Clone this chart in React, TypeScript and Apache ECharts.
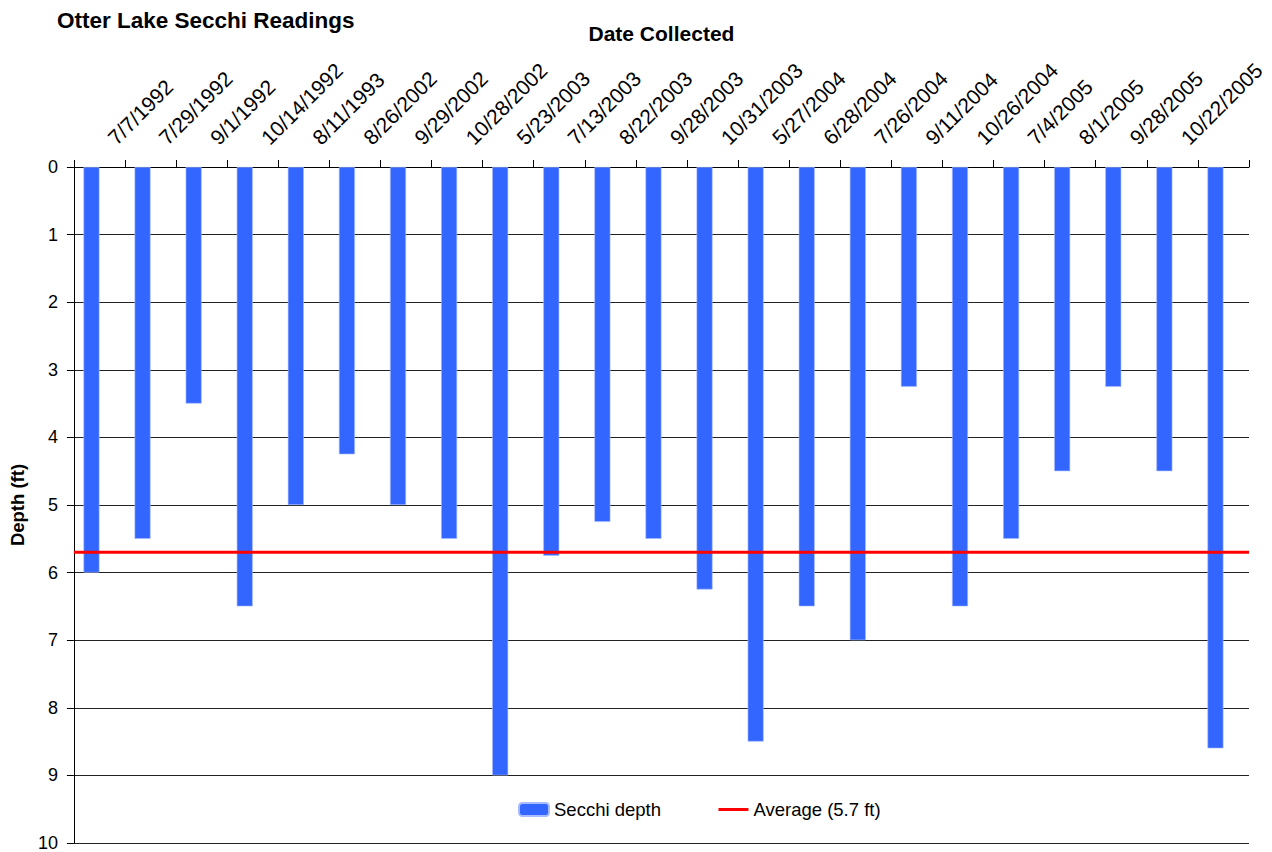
import React, { useEffect, useRef } from 'react';
import * as echarts from 'echarts';

const FONT = "'Liberation Sans', Arial, Helvetica, sans-serif";

const dates = [
  '7/7/1992', '7/29/1992', '9/1/1992', '10/14/1992', '8/11/1993', '8/26/2002',
  '9/29/2002', '10/28/2002', '5/23/2003', '7/13/2003', '8/22/2003', '9/28/2003',
  '10/31/2003', '5/27/2004', '6/28/2004', '7/26/2004', '9/11/2004', '10/26/2004',
  '7/4/2005', '8/1/2005', '9/28/2005', '10/22/2005', '',
];

const secchiDepth = [
  6, 5.5, 3.5, 6.5, 5, 4.25, 5, 5.5, 9, 5.75, 5.25, 5.5,
  6.25, 8.5, 6.5, 7, 3.25, 6.5, 5.5, 4.5, 3.25, 4.5, 8.6,
];

const averageDepth = 5.7;
const averageSpan = [0, 1];

export default function App() {
  const ref = useRef<HTMLDivElement>(null);

  useEffect(() => {
    if (!ref.current) return;
    const chart = echarts.init(ref.current, null, { renderer: 'svg' });
    chart.setOption({
      animation: false,
      backgroundColor: '#ffffff',
      textStyle: { fontFamily: FONT, color: '#000' },
      title: {
        text: 'Otter Lake Secchi Readings',
        left: 57,
        top: 9,
        padding: 0,
        textStyle: { fontFamily: FONT, fontSize: 22.5, fontWeight: 'bold', color: '#000' },
      },
      legend: {
        left: 518,
        top: 800,
        padding: 0,
        itemWidth: 30,
        itemHeight: 13,
        itemGap: 56,
        textStyle: { fontFamily: FONT, fontSize: 18.5, color: '#000' },
        data: [
          { name: 'Secchi depth' },
          { name: 'Average (5.7 ft)', itemStyle: { opacity: 0 }, lineStyle: { width: 3 } },
        ],
      },
      grid: { left: 73, right: 23, top: 167, bottom: 7, containLabel: false },
      xAxis: [
        {
          type: 'category',
          position: 'top',
          data: dates,
          boundaryGap: true,
          name: 'Date Collected',
          nameLocation: 'middle',
          nameGap: 123,
          nameTextStyle: { fontFamily: FONT, fontSize: 21, fontWeight: 'bold', color: '#000' },
          axisLine: { show: true, lineStyle: { color: '#000', width: 1 } },
          axisTick: { show: true, length: 7, lineStyle: { color: '#000', width: 1 } },
          axisLabel: {
            rotate: 45,
            interval: 0,
            margin: 14,
            padding: [0, 0, 0, 17],
            fontSize: 21,
            color: '#000',
            fontFamily: FONT,
          },
          splitLine: { show: false },
        },
        {
          type: 'value',
          min: averageSpan[0],
          max: averageSpan[1],
          show: false,
          position: 'bottom',
        },
      ],
      yAxis: {
        type: 'value',
        inverse: true,
        min: 0,
        max: 10,
        interval: 1,
        name: 'Depth (ft)',
        nameLocation: 'middle',
        nameGap: 45,
        nameRotate: 90,
        nameTextStyle: { fontFamily: FONT, fontSize: 18.5, fontWeight: 'bold', color: '#000' },
        axisLine: { show: true, lineStyle: { color: '#000', width: 1 } },
        axisTick: { show: true, length: 7, lineStyle: { color: '#000', width: 1 } },
        axisLabel: { margin: 16, fontSize: 18, color: '#000', fontFamily: FONT },
        splitLine: { show: true, lineStyle: { color: '#222', width: 1 } },
      },
      series: [
        {
          name: 'Secchi depth',
          type: 'bar',
          data: secchiDepth,
          barWidth: 16,
          barGap: '0%',
          itemStyle: { color: '#3366ff', borderColor: '#a8bcff', borderWidth: 0.6 },
          z: 2,
        },
        {
          name: 'spacer',
          type: 'bar',
          data: secchiDepth.map(() => null),
          barWidth: 16,
          barGap: '0%',
          itemStyle: { color: 'transparent' },
          silent: true,
        },
        {
          name: 'Average (5.7 ft)',
          type: 'line',
          xAxisIndex: 1,
          data: averageSpan.map((x) => [x, averageDepth]),
          symbol: 'none',
          lineStyle: { color: '#ff0000', width: 3 },
          itemStyle: { color: '#ff0000' },
          z: 5,
        },
      ],
    });
    return () => chart.dispose();
  }, []);

  return (
    <div
      ref={ref}
      style={{ position: 'fixed', left: 0, top: 0, width: 1272, height: 852, background: '#fff' }}
    />
  );
}
